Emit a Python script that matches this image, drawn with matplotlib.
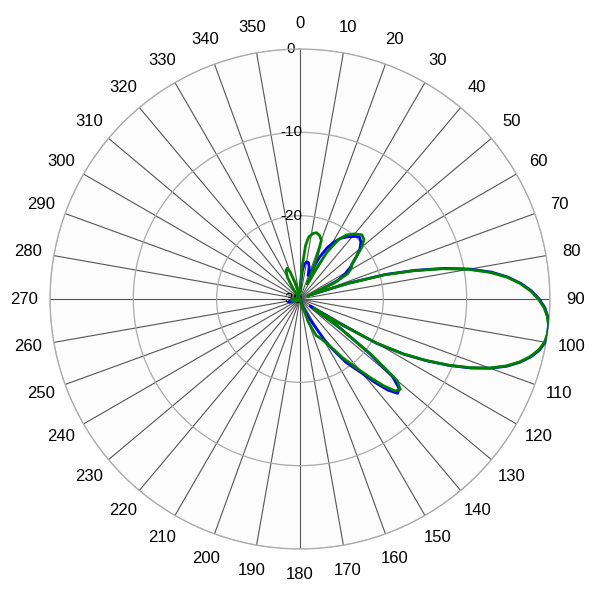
import numpy as np
import matplotlib
matplotlib.use("Agg")
import matplotlib.pyplot as plt

# pattern samples: angle (deg, clockwise from N) and level (dB)
blue_deg = [0, 3, 5, 7, 10, 13, 16, 19, 22, 25, 28, 31, 34, 38, 42, 44, 47,
            50, 53, 56, 58, 59, 61, 64, 67, 69, 72, 74, 76, 78, 80, 82, 84,
            86, 88, 90, 92, 94, 96, 98, 100, 102, 104, 106, 108, 110, 112,
            114, 116, 118, 120, 122, 124, 126, 128, 130, 132, 134, 136, 138,
            140, 144, 147, 149, 151, 155, 160, 170, 200, 240, 252, 258, 264,
            280, 320, 340, 360]
blue_db = [-29, -28, -26.5, -25.8, -25.5, -25.5, -26, -27, -26.5, -24.5, -23,
           -22, -21.2, -20.5, -19.9, -19.7, -20, -20.6, -21.5, -22.4, -22.9,
           -23.3, -23.8, -25, -28, -28.5, -23.8, -19.3, -15.8, -12.3, -9.3,
           -6.8, -4.9, -3.4, -2.2, -1.3, -0.6, -0.2, 0, 0, -0.1, -0.6, -1.4,
           -2.5, -3.9, -5.7, -7.9, -10.4, -13.1, -15.9, -19.3, -24.8, -28.5,
           -24, -19.5, -15.5, -14, -13.7, -14.8, -16.5, -18.3, -20.6, -22.8,
           -24.2, -26, -27.5, -29, -30, -30, -30, -28.7, -28.7, -29.2, -30,
           -30, -29.5, -29]

green_deg = [0, 2, 4, 6, 8, 11, 14, 17, 20, 22, 24, 26, 28, 30, 33, 36, 40,
             44, 47, 50, 53, 56, 59, 62, 65, 67, 69, 72, 74, 76, 78, 80, 82,
             84, 86, 88, 90, 92, 94, 96, 98, 100, 102, 104, 106, 108, 110,
             112, 114, 116, 118, 120, 122, 124, 126, 128, 130, 132, 134, 136,
             138, 140, 144, 148, 152, 156, 160, 164, 170, 180, 200, 220, 240,
             255, 265, 275, 290, 310, 320, 326, 330, 334, 337, 340, 344, 348,
             352, 356, 360]
green_db = [-29, -28, -26, -23.5, -22.5, -22, -21.8, -22, -22.5, -24.5, -26.5,
            -28, -26, -23.5, -21.5, -20.5, -19.8, -19.3, -19.5, -20.3, -21.5,
            -22.5, -22.8, -23.5, -25.5, -29, -28, -24, -19.5, -16, -12.5,
            -9.5, -7, -5, -3.5, -2.3, -1.4, -0.7, -0.25, 0, 0, -0.2, -0.7,
            -1.5, -2.6, -4, -5.8, -8, -10.5, -13.2, -16, -19.5, -25, -28, -24,
            -19, -14.8, -13.8, -14.1, -15.5, -17.2, -18.8, -21.3, -23.5,
            -24.6, -25.2, -27, -29.5, -30, -30, -30, -30, -29.5, -29, -29,
            -29.5, -30, -30, -30, -28.5, -27, -26.2, -26, -26.5, -28, -29,
            -29.5, -29, -29]

angle_ticks = list(range(0, 360, 10))
ring_ticks = [-30, -20, -10, 0]


def main():
    fig = plt.figure(figsize=(6, 6), dpi=100)
    ax = fig.add_axes([0.0833, 0.085, 0.8333, 0.8333], projection="polar")
    ax.set_theta_zero_location("N")
    ax.set_theta_direction(-1)
    ax.set_facecolor("#fcfcfc")

    ax.plot(np.deg2rad(blue_deg), blue_db, color="#0000ff", lw=2.0, zorder=3)
    ax.plot(np.deg2rad(green_deg), green_db, color="#008000", lw=2.0,
            zorder=4)

    ax.set_ylim(-30, 0)
    ax.set_yticks(ring_ticks)
    ax.set_yticklabels([])
    ax.set_xticks(np.deg2rad(angle_ticks))
    ax.set_xticklabels([str(a) for a in angle_ticks], fontsize=12,
                       family="Liberation Sans")
    ax.tick_params(axis="x", pad=8)

    ax.xaxis.grid(True, color="#555555", lw=0.8)
    ax.yaxis.grid(True, color="#aaaaaa", lw=0.9)
    ax.spines["polar"].set_color("#aaaaaa")
    ax.spines["polar"].set_linewidth(0.9)

    for r in ring_ticks:
        ax.annotate(str(r), xy=(0, r), xytext=(-6.5, 0),
                    textcoords="offset points", ha="center", va="center",
                    fontsize=11, family="Liberation Sans", zorder=2)

    fig.savefig("out.png", dpi=100)


if __name__ == "__main__":
    main()
